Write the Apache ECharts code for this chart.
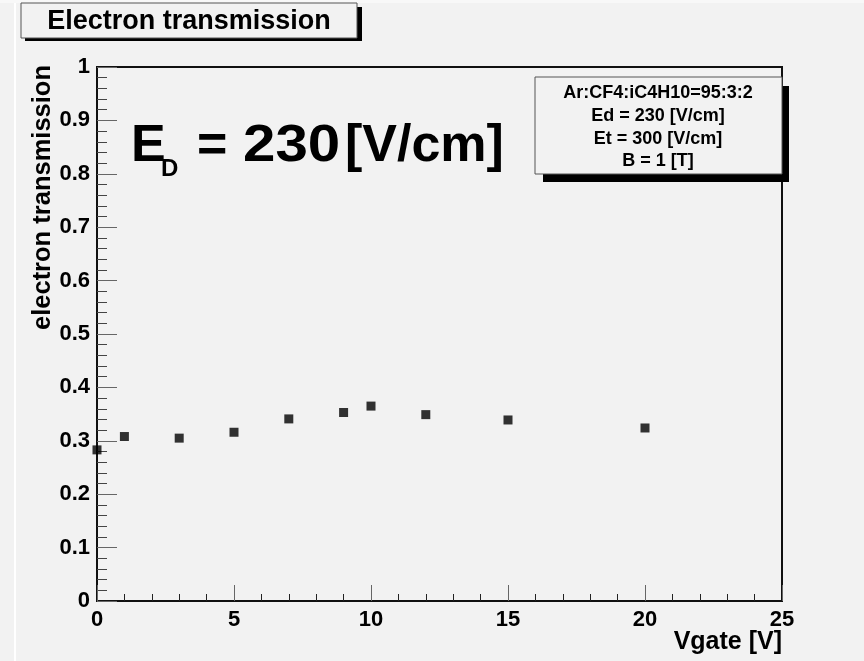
<!DOCTYPE html>
<html>
<head>
<meta charset="utf-8">
<script src="https://cdn.jsdelivr.net/npm/echarts@6/dist/echarts.min.js"></script>
<style>
  html, body { margin: 0; padding: 0; background: #f2f2f2; }
  #chart { width: 864px; height: 661px; }
</style>
</head>
<body>
<div id="chart"></div>
<script>
// Gate voltage scan: electron transmission vs Vgate
const vgate = [0, 1, 3, 5, 7, 9, 10, 12, 15, 20];
const transmission = [0.283, 0.308, 0.305, 0.316, 0.341, 0.353, 0.365, 0.349, 0.339, 0.324];

const chartTitle = 'Electron transmission';
const xTitle = 'Vgate [V]';
const yTitle = 'electron transmission';
const infoLines = ['Ar:CF4:iC4H10=95:3:2', 'Ed = 230 [V/cm]', 'Et = 300 [V/cm]', 'B = 1 [T]'];

const FONT = 'Liberation Sans, Arial, sans-serif';
const BIG = 'bold 52px Liberation Sans, Arial, sans-serif';
const chart = echarts.init(document.getElementById('chart'), null, { renderer: 'canvas' });

const points = vgate.map((v, i) => [v, transmission[i]]);

function label(text, x, y, font, align, extra) {
  return Object.assign({
    type: 'text', x: x, y: y, z: 12,
    style: { text: text, font: font, fill: '#000', align: align || 'left', verticalAlign: 'middle' }
  }, extra || {});
}

chart.setOption({
  backgroundColor: '#f2f2f2',
  animation: false,
  grid: {
    left: 97, right: 82, top: 67, bottom: 60,
    show: true, borderColor: '#111', borderWidth: 2, backgroundColor: 'transparent'
  },
  xAxis: {
    type: 'value', min: 0, max: 25, interval: 5,
    axisLine: { show: true, lineStyle: { color: '#111', width: 2 } },
    axisTick: { show: true, inside: true, length: 16, lineStyle: { color: '#666', width: 1 } },
    minorTick: { show: true, splitNumber: 5, length: 7, lineStyle: { color: '#222', width: 1 } },
    splitLine: { show: false },
    axisLabel: { margin: 8, color: '#000', fontWeight: 'bold', fontSize: 22, fontFamily: FONT }
  },
  yAxis: {
    type: 'value', min: 0, max: 1, interval: 0.1,
    axisLine: { show: true, lineStyle: { color: '#111', width: 2 } },
    axisTick: { show: true, inside: true, length: 20, lineStyle: { color: '#666', width: 1 } },
    minorTick: { show: true, splitNumber: 5, length: 10, lineStyle: { color: '#444', width: 1 } },
    splitLine: { show: false },
    axisLabel: { margin: 7, color: '#000', fontWeight: 'bold', fontSize: 22, fontFamily: FONT }
  },
  series: [{
    type: 'scatter',
    data: points,
    symbol: 'rect',
    symbolSize: 9,
    clip: false,
    itemStyle: { color: '#000' },
    z: 5
  }],
  graphic: [
    // thin light strip at the left edge
    { type: 'rect', shape: { x: 14, y: 0, width: 2, height: 661 }, style: { fill: '#ffffff' }, silent: true },
    { type: 'rect', shape: { x: 0, y: 0, width: 864, height: 3 }, style: { fill: '#f8f8f8' }, silent: true },
    // title box with drop shadow
    { type: 'rect', shape: { x: 25, y: 7, width: 337, height: 34 }, style: { fill: '#000' }, z: 10 },
    { type: 'rect', shape: { x: 21, y: 3, width: 336, height: 35 }, style: { fill: '#f2f2f2', stroke: '#555', lineWidth: 1 }, z: 11 },
    label(chartTitle, 189, 22, 'bold 27px ' + FONT, 'center'),
    // info box with drop shadow
    { type: 'rect', shape: { x: 543, y: 86, width: 246, height: 96 }, style: { fill: '#000' }, z: 10 },
    { type: 'rect', shape: { x: 535, y: 77, width: 247, height: 97 }, style: { fill: '#f2f2f2', stroke: '#555', lineWidth: 1 }, z: 11 },
    ...infoLines.map((t, i) => label(t, 658, [93, 116, 139, 161][i], 'bold 18px ' + FONT, 'center')),
    // axis titles
    label(xTitle, 782, 642, 'bold 25px ' + FONT, 'right'),
    label(yTitle, 43, 65, 'bold 25.5px ' + FONT, 'right', { rotation: Math.PI / 2 }),
    // drift field annotation: E_D = 230 [V/cm]
    label('E', 131, 147, BIG, 'left'),
    label('D', 161, 169, 'bold 24px ' + FONT, 'left'),
    label('=', 197, 147, BIG, 'left'),
    label('230', 243, 147, BIG, 'left', { scaleX: 1.12 }),
    label('[V/cm]', 345, 147, BIG, 'left')
  ]
});
</script>
</body>
</html>
